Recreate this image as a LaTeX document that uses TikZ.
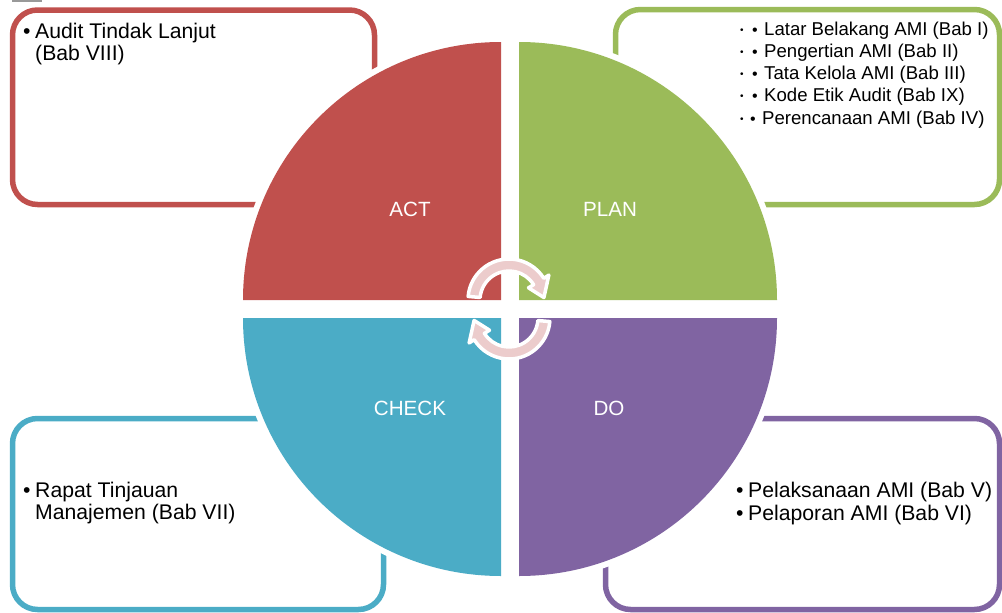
\documentclass[tikz,border=0pt]{standalone}
\usepackage{fontspec}
\setmainfont{Liberation Sans}
\definecolor{cact}{HTML}{C0504D}
\definecolor{cplan}{HTML}{9BBB59}
\definecolor{ccheck}{HTML}{4BACC6}
\definecolor{cdo}{HTML}{8064A2}
\definecolor{cpink}{RGB}{236,204,204}
\begin{document}
\begin{tikzpicture}[x=1pt,y=-1pt,
  boxline/.style={line width=5.5pt, rounded corners=25pt},
  txt/.style={inner sep=0pt, anchor=base west, font=\fontsize{21.2}{22}\selectfont},
  stxt/.style={inner sep=0pt, anchor=base west, font=\fontsize{18.6}{22}\selectfont},
  lbl/.style={inner sep=0pt, anchor=base, text=white, font=\fontsize{20.6}{22}\selectfont},
  cyc/.style={fill=cpink, draw=white, line width=3.5pt, line join=round}]
\useasboundingbox (0,0) rectangle (1002,613);
\draw[gray!80, line width=2pt] (12,0.5) -- (42,0.5);
% boxes
\draw[boxline, cact] (12.5,10) rectangle (374.5,204.5);
\draw[boxline, cplan] (615.5,9.5) rectangle (999.5,204.5);
\draw[boxline, ccheck] (12.5,418.5) rectangle (383.5,609.5);
\draw[boxline, cdo] (605.5,418.5) rectangle (999.5,609.5);
% quadrants: white halo then colour
\fill[white] (501,300) -- (237,300) arc[start angle=180, end angle=270, radius=264] -- cycle;
\fill[white] (519,300) -- (519,36) arc[start angle=270, end angle=360, radius=264] -- cycle;
\fill[white] (519,318) -- (783,318) arc[start angle=0, end angle=90, radius=264] -- cycle;
\fill[white] (501,318) -- (501,582) arc[start angle=90, end angle=180, radius=264] -- cycle;
\fill[cact] (501,300) -- (243,300) arc[start angle=180, end angle=270, radius=258] -- cycle;
\fill[cplan] (519,300) -- (519,42) arc[start angle=270, end angle=360, radius=258] -- cycle;
\fill[cdo] (519,318) -- (777,318) arc[start angle=0, end angle=90, radius=258] -- cycle;
\fill[ccheck] (501,318) -- (501,576) arc[start angle=90, end angle=180, radius=258] -- cycle;
% labels
\node[lbl] (act) at (410,216) {ACT};
\node[lbl] (plan) at (610,216) {PLAN};
\node[lbl] (check) at (410,415) {CHECK};
\node[lbl] (do) at (609,415) {DO};
% cycle arrows
\begin{scope}[shift={(509,300)}]
\path[cyc] (-175:41) arc[start angle=-175, end angle=-32, radius=41] -- (-32:47) -- (-4:35) -- (-32:23) -- (-32:29) arc[start angle=-32, end angle=-175, radius=29] -- cycle;
\end{scope}
\begin{scope}[shift={(509,318)}]
\path[cyc] (5:41) arc[start angle=5, end angle=148, radius=41] -- (148:47) -- (176:35) -- (148:23) -- (148:29) arc[start angle=148, end angle=5, radius=29] -- cycle;
\end{scope}
% ACT text
\node[txt] (a0) at (23,38) {•};
\node[txt] (a1) at (35,38) {Audit Tindak Lanjut};
\node[txt] (a2) at (35,60.5) {(Bab VIII)};
% PLAN text
\foreach \i/\y/\t in {1/35/Latar Belakang AMI (Bab I),2/57/Pengertian AMI (Bab II),3/79/Tata Kelola AMI (Bab III),4/101/Kode Etik Audit (Bab IX)}{
  \node[inner sep=0pt, anchor=base west, font=\fontsize{10}{10}\selectfont] (pa\i) at (740,\y-1.5) {•};
  \node[inner sep=0pt, anchor=base west, font=\fontsize{16}{16}\selectfont] (pb\i) at (752,\y) {•};
  \node[stxt] (p\i) at (764,\y) {\t};
}
\node[inner sep=0pt, anchor=base west, font=\fontsize{10}{10}\selectfont] (pa5) at (740,122.5) {•};
\node[inner sep=0pt, anchor=base west, font=\fontsize{16}{16}\selectfont] (pb5) at (750,124) {•};
\node[stxt] (p5) at (762,124) {Perencanaan AMI (Bab IV)};
% CHECK text
\node[txt] (c0) at (23,497) {•};
\node[txt] (c1) at (35,497) {Rapat Tinjauan};
\node[txt] (c2) at (35,519.5) {Manajemen (Bab VII)};
% DO text
\node[txt] (d0) at (736,497) {•};
\node[txt] (d1) at (748,497) {Pelaksanaan AMI (Bab V)};
\node[txt] (d0b) at (736,520) {•};
\node[txt] (d2) at (748,520) {Pelaporan AMI (Bab VI)};
\end{tikzpicture}
\end{document}
